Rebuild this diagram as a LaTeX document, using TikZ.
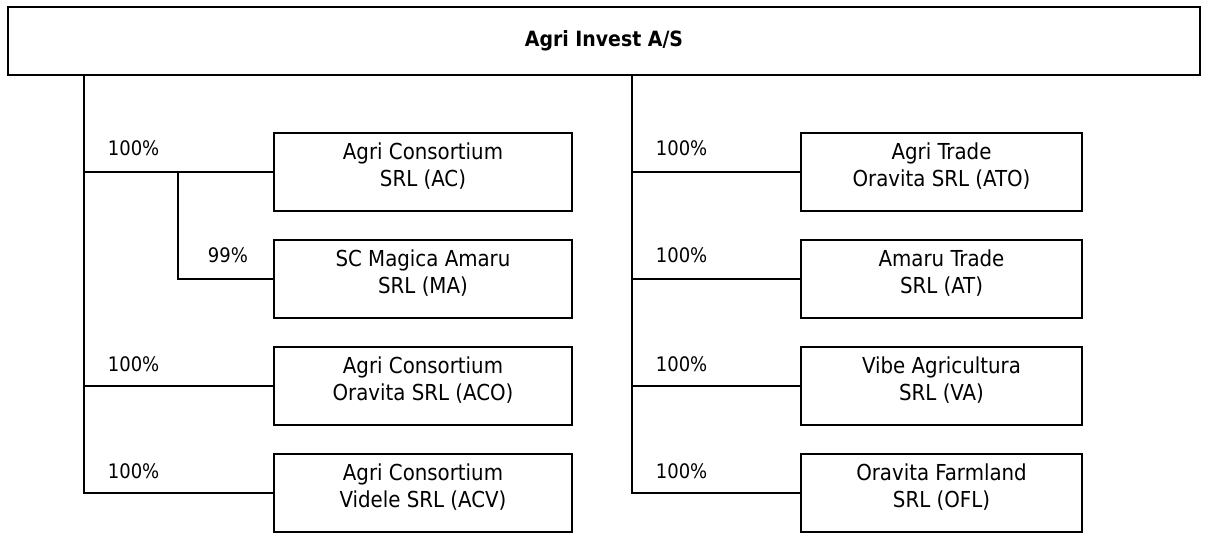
\documentclass[tikz,border=0pt]{standalone}
\usepackage{fontspec}
\setmainfont{DejaVu Sans Condensed}
\usetikzlibrary{positioning}

\begin{document}
\begin{tikzpicture} [
	x=1pt, y=-1pt, % one unit per pixel, y grows downwards
	line width=1.8pt,
	node distance=29pt, % gap between two company boxes
	company/.style={draw, minimum height=78pt, inner sep=0pt, outer sep=0pt, align=center,
		font=\fontsize{22}{27}\selectfont, execute at end node={\rule[-14pt]{0pt}{0pt}}}, % one subsidiary
	leftco/.style={company, minimum width=298pt},
	rightco/.style={company, minimum width=281pt},
	share/.style={anchor=base west, inner sep=0pt, font=\fontsize{20}{27}\selectfont}, % ownership label
	]
	\useasboundingbox (0,0) rectangle (1206,534);

	\node[draw, minimum width=1192pt, minimum height=68pt, font=\bfseries\fontsize{21}{27}\selectfont] (parent) at (604,41) {\raisebox{-3pt}{Agri Invest A/S}};

	% left column
	\node[leftco] (ac) at (423,172) {Agri Consortium\\SRL (AC)};
	\node[leftco, below=of ac] (ma) {SC Magica Amaru\\SRL (MA)};
	\node[leftco, below=of ma] (aco) {Agri Consortium\\Oravita SRL (ACO)};
	\node[leftco, below=of aco] (acv) {Agri Consortium\\Videle SRL (ACV)};

	% right column
	\node[rightco, right=229pt of ac] (ato) {Agri Trade\\Oravita SRL (ATO)};
	\node[rightco, below=of ato] (at) {Amaru Trade\\SRL (AT)};
	\node[rightco, below=of at] (va) {Vibe Agricultura\\SRL (VA)};
	\node[rightco, below=of va] (ofl) {Oravita Farmland\\SRL (OFL)};

	\coordinate (lroot) at (84,75);
	\coordinate (rroot) at (632,75);
	\coordinate (sub) at (178,172);

	\draw (lroot) |- (acv.west);
	\draw (lroot |- ac.west) -- (ac.west);
	\draw (lroot |- aco.west) -- (aco.west);
	\draw (sub) |- (ma.west);

	\draw (rroot) |- (ofl.west);
	\foreach \co in {ato, at, va}
		\draw (rroot |- \co.west) -- (\co.west);

	\node[share] (pac) at (107,156) {100\%};
	\node[share] (pma) at (207,263) {99\%};
	\node[share] (paco) at (107,371) {100\%};
	\node[share] (pacv) at (107,478) {100\%};
	\node[share] (pato) at (655,156) {100\%};
	\node[share] (pat) at (655,263) {100\%};
	\node[share] (pva) at (655,371) {100\%};
	\node[share] (pofl) at (655,478) {100\%};
\end{tikzpicture}
\end{document}
